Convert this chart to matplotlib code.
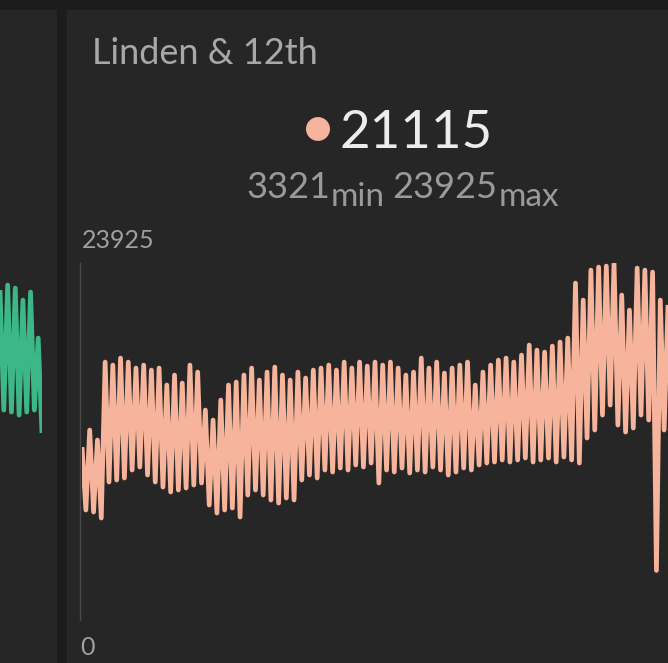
import numpy as np
import matplotlib.pyplot as plt
from matplotlib.patches import Rectangle, Circle

# Linden & 12th counts, alternating daily highs and lows
linden_highs = [11591, 12730, 12060, 17286, 17085, 17554, 17286, 16884, 17085, 16750,
                16884, 15745, 16415, 15879, 17085, 16616, 14070, 13400, 14740, 15745,
                15946, 16415, 16884, 16080, 16616, 16951, 16415, 16080, 16616, 16214,
                16750, 16884, 17085, 16750, 17286, 16884, 17286, 17018, 17286, 17085,
                17286, 16884, 16415, 16616, 17554, 16884, 17286, 16549, 16884, 17085,
                17286, 15745, 16616, 17085, 17420, 17554, 17286, 17755, 18425, 18090,
                17956, 18358, 18626, 18894, 22579, 21440, 23450, 23651, 23718, 23925,
                21775, 20770, 23584, 23450, 23316, 21440, 21115]
linden_lows = [7370, 7236, 6834, 9246, 9380, 9514, 10050, 10251, 9715, 9246,
               8911, 8576, 8710, 8844, 9045, 9179, 7705, 7169, 7370, 7504,
               6901, 8375, 8710, 8375, 8040, 7839, 8174, 8040, 9380, 9715,
               9514, 10050, 9916, 10184, 10050, 10385, 10251, 10519, 9179, 10050,
               9916, 10184, 9849, 10050, 9916, 10251, 10050, 9715, 9916, 10184,
               10050, 10385, 10519, 10586, 10720, 10586, 10720, 10854, 10586, 10720,
               10854, 10586, 10921, 10720, 10519, 12194, 12730, 13735, 14405, 13065,
               12596, 12864, 13735, 13400, 3321, 12730]

# neighbouring station (only its tail is visible)
neighbor_highs = [22110, 22445, 22244, 21440, 21976, 18894]
neighbor_lows = [14070, 13936, 13735, 13936, 14070, 12529]

current = 21115
y_min, y_max = 3321, 23925

W, H = 668, 663
fig = plt.figure(figsize=(W / 100, H / 100), dpi=100)
fig.patch.set_facecolor('#1c1c1c')

def px(x, y):
    return x / W, 1 - y / H

# panels
panel_color = '#262626'
fig.patches.append(Rectangle((0, 0), 57 / W, 1 - 10 / H, transform=fig.transFigure,
                             facecolor=panel_color, edgecolor='none', zorder=-5))
fig.patches.append(Rectangle((67 / W, 0), 1 - 67 / W, 1 - 10 / H, transform=fig.transFigure,
                             facecolor=panel_color, edgecolor='none', zorder=-5))

salmon = '#f5b49b'
green = '#3cb888'

def interleave(highs, lows):
    s = np.empty(len(highs) + len(lows))
    s[0::2] = highs
    s[1::2] = lows
    return s

# main chart
series = interleave(linden_highs, linden_lows)
bottom = (H - 620) / H
top = (H - 263) / H
ax = fig.add_axes([82 / W, bottom, 1 - 82 / W, top - bottom])
ax.set_facecolor('none')
ax.plot(np.arange(len(series)), series, color=salmon, lw=3.4,
        solid_joinstyle='round', solid_capstyle='butt')
ax.set_xlim(0, len(series) - 1)
ax.set_ylim(0, y_max)
for s in ax.spines.values():
    s.set_visible(False)
ax.set_xticks([])
ax.set_yticks([])

# y axis rule
fig.add_artist(plt.Line2D([80 / W, 80 / W], [bottom, top], color='#4a4a4a', lw=1))

# neighbour chart tail
nseries = interleave(neighbor_highs, neighbor_lows)
ax2 = fig.add_axes([0, bottom, 42 / W, top - bottom])
ax2.set_facecolor('none')
ax2.plot(np.arange(len(nseries)), nseries, color=green, lw=3.4,
         solid_joinstyle='round', solid_capstyle='butt')
ax2.set_xlim(0, len(nseries) - 1)
ax2.set_ylim(0, y_max)
ax2.axis('off')

font = 'Lato'

fig.text(*px(92, 64), 'Linden & 12th', fontfamily=font, fontsize=26,
         color='#a8a8a8', va='baseline', ha='left')

fig.patches.append(Circle(px(318, 129), 12 / W, transform=fig.transFigure,
                          facecolor=salmon, edgecolor='none'))
fig.text(*px(339, 148), f'{current}', fontfamily=font, fontsize=38,
         color='#ececec', va='baseline', ha='left')

fig.text(*px(246, 198), f'{y_min}', fontfamily=font, fontsize=26,
         color='#9a9a9a', va='baseline', ha='left')
fig.text(*px(331, 206), 'min', fontfamily=font, fontsize=24,
         color='#9a9a9a', va='baseline', ha='left')
fig.text(*px(392, 198), f'{y_max}', fontfamily=font, fontsize=26,
         color='#9a9a9a', va='baseline', ha='left')
fig.text(*px(499, 206), 'max', fontfamily=font, fontsize=24,
         color='#9a9a9a', va='baseline', ha='left')

fig.text(*px(82, 248), f'{y_max}', fontfamily=font, fontsize=18,
         color='#a0a0a0', va='baseline', ha='left')
fig.text(*px(80, 655), '0', fontfamily=font, fontsize=18,
         color='#a0a0a0', va='baseline', ha='left')

fig.savefig('out.png', dpi=100, facecolor=fig.get_facecolor())
